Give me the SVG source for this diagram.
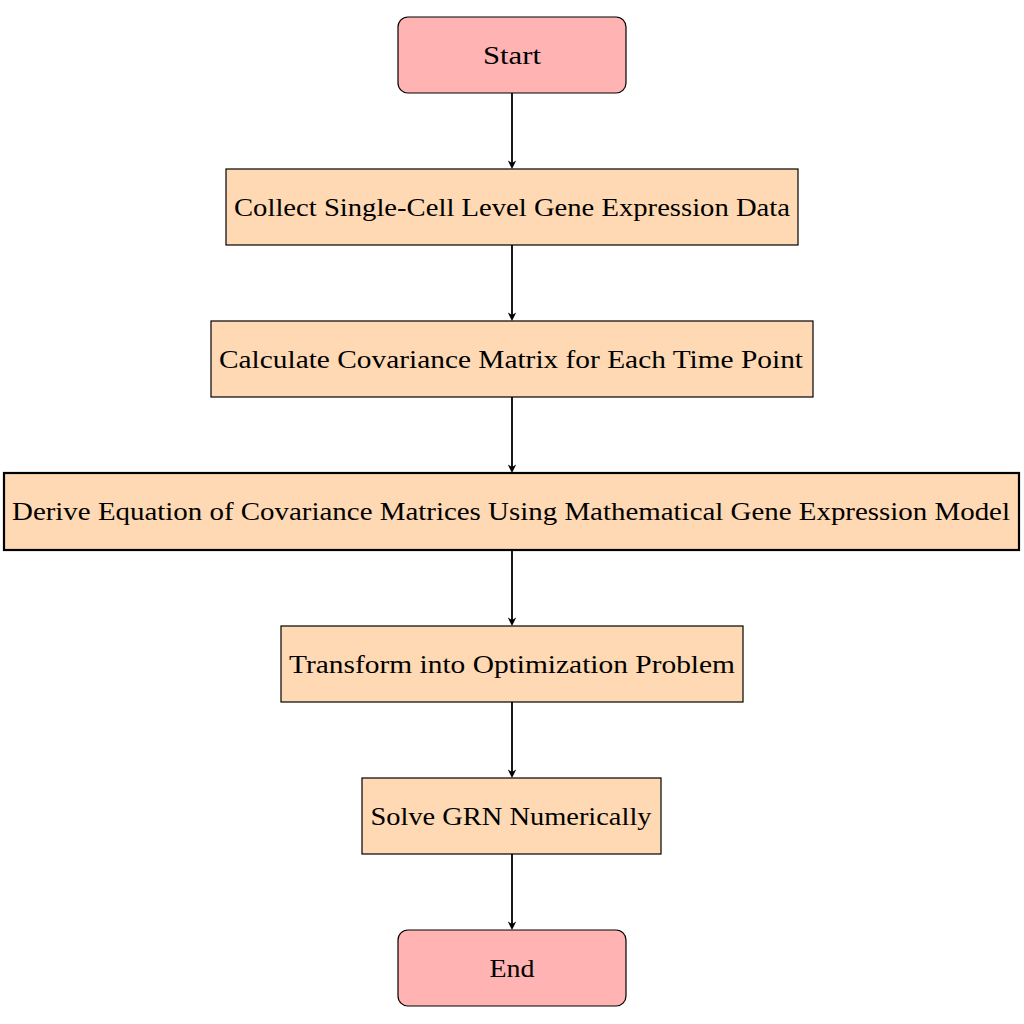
<svg xmlns="http://www.w3.org/2000/svg" width="1024" height="1024" viewBox="0 0 1024 1024">
<defs>
<style>
.term{fill:#ffb3b3;stroke:#000;stroke-width:1.2}
.proc{fill:#ffd9b3;stroke:#000;stroke-width:1.2}
.wide{fill:#ffd9b3;stroke:#000;stroke-width:2.2}
text{font-family:"Liberation Serif","Times New Roman",serif;font-size:26px;fill:#000;text-anchor:middle}
.edge{stroke:#000;stroke-width:1.8;fill:none}
.head{fill:#000;stroke:none}
</style>
<path id="ah" d="M0,0 L-4.2,-8.5 L0,-6 L4.2,-8.5 Z"/>
</defs>
<rect width="1024" height="1024" fill="#fff"/>
<g id="connectors">
<line class="edge" x1="512" y1="93" x2="512" y2="164"/>
<line class="edge" x1="512" y1="245" x2="512" y2="316"/>
<line class="edge" x1="512" y1="397" x2="512" y2="468"/>
<line class="edge" x1="512" y1="550" x2="512" y2="621"/>
<line class="edge" x1="512" y1="702" x2="512" y2="773"/>
<line class="edge" x1="512" y1="854" x2="512" y2="925"/>
<use href="#ah" class="head" x="512" y="169"/>
<use href="#ah" class="head" x="512" y="321"/>
<use href="#ah" class="head" x="512" y="473"/>
<use href="#ah" class="head" x="512" y="626"/>
<use href="#ah" class="head" x="512" y="778"/>
<use href="#ah" class="head" x="512" y="930"/>
</g>
<g id="start">
<rect class="term" x="398" y="17" width="228" height="76" rx="10"/>
<text x="512" y="63.5" textLength="58" lengthAdjust="spacingAndGlyphs">Start</text>
</g>
<g id="collect">
<rect class="proc" x="226" y="169" width="572" height="76"/>
<text x="512" y="215.5" textLength="556" lengthAdjust="spacingAndGlyphs">Collect Single-Cell Level Gene Expression Data</text>
</g>
<g id="calculate">
<rect class="proc" x="211" y="321" width="602" height="76"/>
<text x="511" y="367.5" textLength="584" lengthAdjust="spacingAndGlyphs">Calculate Covariance Matrix for Each Time Point</text>
</g>
<g id="derive">
<rect class="wide" x="4" y="473" width="1015" height="77"/>
<text x="511" y="520" textLength="998" lengthAdjust="spacingAndGlyphs">Derive Equation of Covariance Matrices Using Mathematical Gene Expression Model</text>
</g>
<g id="transform">
<rect class="proc" x="281" y="626" width="462" height="76"/>
<text x="512" y="672.5" textLength="446" lengthAdjust="spacingAndGlyphs">Transform into Optimization Problem</text>
</g>
<g id="solve">
<rect class="proc" x="362" y="778" width="299" height="76"/>
<text x="511" y="824.5" textLength="281" lengthAdjust="spacingAndGlyphs">Solve GRN Numerically</text>
</g>
<g id="end">
<rect class="term" x="398" y="930" width="228" height="76" rx="10"/>
<text x="512" y="976.5" textLength="45" lengthAdjust="spacingAndGlyphs">End</text>
</g>
</svg>
